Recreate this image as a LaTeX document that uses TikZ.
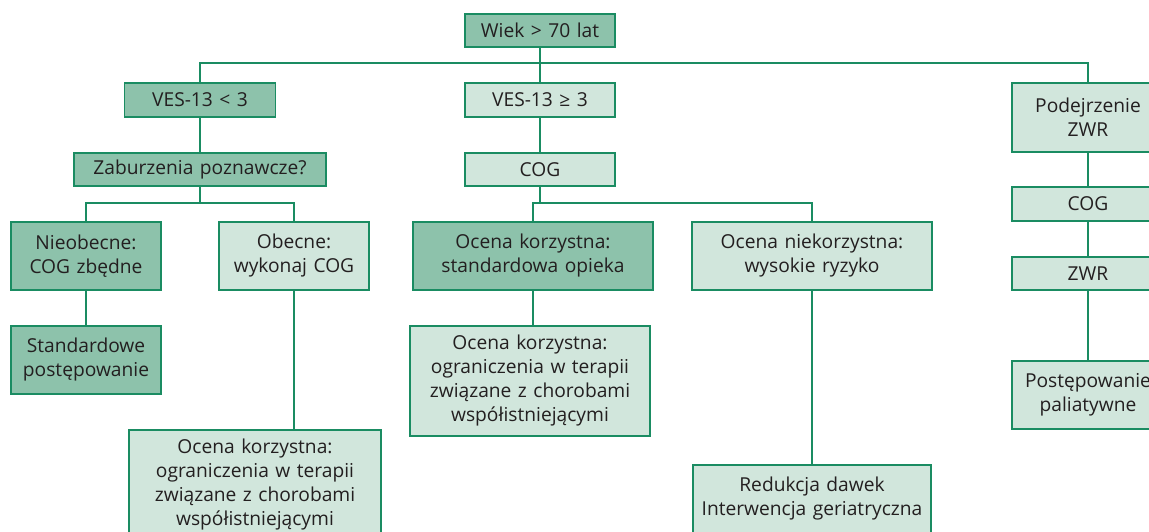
\documentclass[tikz,border=0pt]{standalone}
\usepackage{fontspec}
\setmainfont{Open Sans}[WordSpace=1.3]
\definecolor{boxdark}{RGB}{141,194,171}
\definecolor{boxlight}{RGB}{209,230,220}
\definecolor{edgegreen}{RGB}{26,140,98}
\definecolor{txt}{RGB}{35,31,32}
\begin{document}
\begin{tikzpicture}[x=1pt,y=-1pt,
  box/.style={draw=edgegreen,line width=1.6pt,inner sep=0pt,align=center,
    text=txt,font=\fontsize{19.2}{24}\selectfont},
  dark/.style={box,fill=boxdark},
  light/.style={box,fill=boxlight},
  conn/.style={draw=edgegreen,line width=1.3pt}]
\useasboundingbox (0,0) rectangle (1149,531);
\clip (0,0) rectangle (1149,531);
% nodes
\node[dark,minimum width=150pt,minimum height=33pt] (wiek) at (540,30.5) {Wiek > 70 lat};
\node[dark,minimum width=151pt,minimum height=34pt] (ves1) at (200,100) {VES-13 < 3};
\node[light,minimum width=150pt,minimum height=34pt] (ves2) at (540,100) {VES-13 ≥ 3};
\node[light,minimum width=152pt,minimum height=69pt] (podej) at (1088,117.5) {Podejrzenie\\ZWR};
\node[dark,minimum width=252pt,minimum height=33pt] (zab) at (200,169.5) {Zaburzenia poznawcze?};
\node[light,minimum width=150pt,minimum height=33pt] (cog1) at (540,169.5) {COG};
\node[light,minimum width=152pt,minimum height=34pt] (cog2) at (1088,204) {COG};
\node[light,minimum width=152pt,minimum height=33pt] (zwr) at (1088,273.5) {ZWR};
\node[light,minimum width=152pt,minimum height=68pt] (pal) at (1088,395) {Postępowanie\\paliatywne};
\node[dark,minimum width=150pt,minimum height=68pt] (nieob) at (86,256) {Nieobecne:\\COG zbędne};
\node[light,minimum width=150pt,minimum height=68pt] (obec) at (294,256) {Obecne:\\wykonaj COG};
\node[dark,minimum width=150pt,minimum height=68pt] (stand) at (86,360) {Standardowe\\postępowanie};
\node[light,minimum width=252pt,minimum height=110pt] (ocl) at (255,485) {Ocena korzystna:\\ograniczenia w terapii\\związane z chorobami\\współistniejącymi};
\node[dark,minimum width=240pt,minimum height=68pt] (ocs) at (533,256) {Ocena korzystna:\\standardowa opieka};
\node[light,minimum width=240pt,minimum height=110pt] (ocm) at (530,381) {Ocena korzystna:\\ograniczenia w terapii\\związane z chorobami\\współistniejącymi};
\node[light,minimum width=240pt,minimum height=68pt] (ocn) at (812,256) {Ocena niekorzystna:\\wysokie ryzyko};
\node[light,minimum width=238pt,minimum height=68pt] (red) at (812,499) {Redukcja dawek\\Interwencja geriatryczna};
% junctions
\coordinate (j1) at (540,63);
\coordinate (j2) at (200,203);
\coordinate (j3) at (540,203);
% connectors
\draw[conn] (wiek.south) -- (ves2.north);
\draw[conn] (ves1.north) |- (j1) -| (podej.north);
\draw[conn] (ves1.south) -- (zab.north);
\draw[conn] (zab.south) -- (j2);
\draw[conn] (nieob.north) |- (j2) -| (obec.north);
\draw[conn] (nieob.south) -- (stand.north);
\draw[conn] (obec.south) -- (obec.south |- ocl.north);
\draw[conn] (ves2.south) -- (cog1.north);
\draw[conn] (cog1.south) -- (j3);
\draw[conn] (ocs.north) |- (j3) -| (ocn.north);
\draw[conn] (ocs.south) -- (ocs.south |- ocm.north);
\draw[conn] (ocn.south) -- (red.north);
\draw[conn] (podej.south) -- (cog2.north);
\draw[conn] (cog2.south) -- (zwr.north);
\draw[conn] (zwr.south) -- (pal.north);
\end{tikzpicture}
\end{document}
